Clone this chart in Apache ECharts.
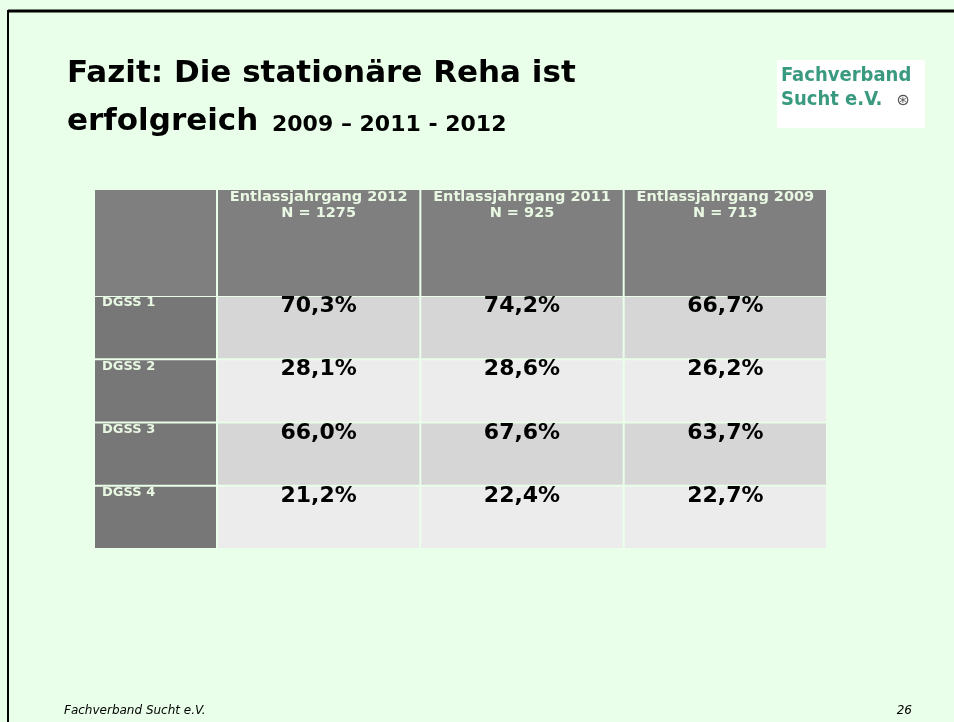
<!DOCTYPE html>
<html>
<head>
<meta charset="utf-8">
<script src="https://cdn.jsdelivr.net/npm/echarts@6/dist/echarts.min.js"></script>
<style>
html,body{margin:0;padding:0;background:#e9ffe9;}
#chart{width:954px;height:722px;}
</style>
</head>
<body>
<div id="chart"></div>
<script>
// ---- data ----
const columns = ['Entlassjahrgang 2012', 'Entlassjahrgang 2011', 'Entlassjahrgang 2009'];
const sampleSizes = ['N = 1275', 'N = 925', 'N = 713'];
const rows = ['DGSS 1', 'DGSS 2', 'DGSS 3', 'DGSS 4'];
const values2012 = [70.3, 28.1, 66.0, 21.2];
const values2011 = [74.2, 28.6, 67.6, 22.4];
const values2009 = [66.7, 26.2, 63.7, 22.7];
const titleLine1 = 'Fazit: Die stationäre Reha ist';
const titleLine2 = 'erfolgreich';
const titleYears = '2009 – 2011 - 2012';
const logoLine1 = 'Fachverband';
const logoLine2 = 'Sucht e.V.';
const footerText = 'Fachverband Sucht e.V.';
const pageNumber = '26';

const valueColumns = [values2012, values2011, values2009];

// ---- build data ----
const bodyData = [];
valueColumns.forEach((col, ci) => col.forEach((v, ri) => bodyData.push([ci, ri, v])));
const headerData = columns.map((c, ci) => [ci, 0, ci]);
const labelData = rows.map((r, ri) => [0, ri, ri]);

const FONT = '"DejaVu Sans", Verdana, sans-serif';
const NARROW = '"DejaVu Sans Condensed", "Liberation Sans Narrow", sans-serif';
const LIGHT = '#e8f8e2';

function cellRect(api) {
  const c = api.coord([api.value(0), api.value(1)]);
  const s = api.size([1, 1]);
  return { x: c[0] - s[0] / 2 + 1, y: c[1] - s[1] / 2 + 1, width: s[0] - 2, height: s[1] - 2 };
}

function fmt(v) { return v.toFixed(1).replace('.', ',') + '%'; }

const chart = echarts.init(document.getElementById('chart'), null, { renderer: 'canvas' });

const grids = [
  { left: 94, top: 189, width: 123, height: 108 },
  { left: 217, top: 189, width: 610, height: 108 },
  { left: 94, top: 296, width: 123, height: 253 },
  { left: 217, top: 296, width: 610, height: 253 }
];

function hiddenCat(data, gi, inverse) {
  return { type: 'category', data: data, gridIndex: gi, show: false, inverse: !!inverse };
}

chart.setOption({
  backgroundColor: '#e9ffe9',
  animation: false,
  grid: grids,
  xAxis: [hiddenCat([''], 0), hiddenCat(columns, 1), hiddenCat([''], 2), hiddenCat(columns, 3)],
  yAxis: [hiddenCat([''], 0), hiddenCat([''], 1), hiddenCat(rows, 2, true), hiddenCat(rows, 3, true)],
  series: [
    {
      type: 'custom', xAxisIndex: 0, yAxisIndex: 0, data: [[0, 0]],
      renderItem: (params, api) => ({ type: 'rect', shape: cellRect(api), style: { fill: '#7f7f7f' } })
    },
    {
      type: 'custom', xAxisIndex: 1, yAxisIndex: 1, data: headerData,
      renderItem: (params, api) => {
        const r = cellRect(api);
        const i = api.value(2);
        const cx = r.x + r.width / 2;
        return {
          type: 'group', children: [
            { type: 'rect', shape: r, style: { fill: '#7f7f7f' } },
            { type: 'text', style: { x: cx, y: r.y + 7.5, text: columns[i], fill: LIGHT, fontFamily: FONT, fontWeight: 'bold', fontSize: 14.5, align: 'center', verticalAlign: 'middle' } },
            { type: 'text', style: { x: cx, y: r.y + 23, text: sampleSizes[i], fill: LIGHT, fontFamily: FONT, fontWeight: 'bold', fontSize: 14.5, align: 'center', verticalAlign: 'middle' } }
          ]
        };
      }
    },
    {
      type: 'custom', xAxisIndex: 2, yAxisIndex: 2, data: labelData,
      renderItem: (params, api) => {
        const r = cellRect(api);
        const i = api.value(2);
        return {
          type: 'group', children: [
            { type: 'rect', shape: r, style: { fill: '#777777' } },
            { type: 'text', style: { x: r.x + 7, y: r.y + 6, text: rows[i], fill: LIGHT, fontFamily: FONT, fontWeight: 'bold', fontSize: 13, align: 'left', verticalAlign: 'middle' } }
          ]
        };
      }
    },
    {
      type: 'custom', xAxisIndex: 3, yAxisIndex: 3, data: bodyData,
      renderItem: (params, api) => {
        const r = cellRect(api);
        const ri = api.value(1);
        return {
          type: 'group', children: [
            { type: 'rect', shape: r, style: { fill: ri % 2 === 0 ? '#d6d6d6' : '#ececec' } },
            { type: 'text', style: { x: r.x + r.width / 2, y: r.y + 9.5, text: fmt(api.value(2)), fill: '#000', fontFamily: FONT, fontWeight: 'bold', fontSize: 22, align: 'center', verticalAlign: 'middle' } }
          ]
        };
      }
    }
  ],
  graphic: [
    { type: 'line', shape: { x1: 8, y1: 11, x2: 954, y2: 11 }, style: { stroke: '#000', lineWidth: 3 } },
    { type: 'line', shape: { x1: 8, y1: 10, x2: 8, y2: 722 }, style: { stroke: '#000', lineWidth: 2 } },
    { type: 'text', style: { x: 67, y: 74, text: titleLine1, fill: '#000', fontFamily: FONT, fontWeight: 'bold', fontSize: 31, verticalAlign: 'middle' } },
    { type: 'text', style: { x: 67, y: 122, text: titleLine2, fill: '#000', fontFamily: FONT, fontWeight: 'bold', fontSize: 31, verticalAlign: 'middle' } },
    { type: 'text', style: { x: 272, y: 125.5, text: titleYears, fill: '#000', fontFamily: FONT, fontWeight: 'bold', fontSize: 22, verticalAlign: 'middle' } },
    { type: 'rect', shape: { x: 777, y: 60, width: 148, height: 68 }, style: { fill: '#ffffff' } },
    { type: 'text', style: { x: 781, y: 76, text: logoLine1, fill: '#3a9a80', fontFamily: NARROW, fontWeight: 'bold', fontSize: 20, verticalAlign: 'middle' } },
    { type: 'text', style: { x: 781, y: 100, text: logoLine2, fill: '#3a9a80', fontFamily: NARROW, fontWeight: 'bold', fontSize: 20, verticalAlign: 'middle' } },
    { type: 'text', style: { x: 903, y: 101, text: '⊛', fill: '#555', fontFamily: FONT, fontSize: 16, align: 'center', verticalAlign: 'middle' } },
    { type: 'text', style: { x: 64, y: 711, text: footerText, fill: '#000', fontFamily: FONT, fontStyle: 'italic', fontSize: 12, verticalAlign: 'middle' } },
    { type: 'text', style: { x: 912, y: 711, text: pageNumber, fill: '#000', fontFamily: FONT, fontStyle: 'italic', fontSize: 12, align: 'right', verticalAlign: 'middle' } }
  ]
});
</script>
</body>
</html>
